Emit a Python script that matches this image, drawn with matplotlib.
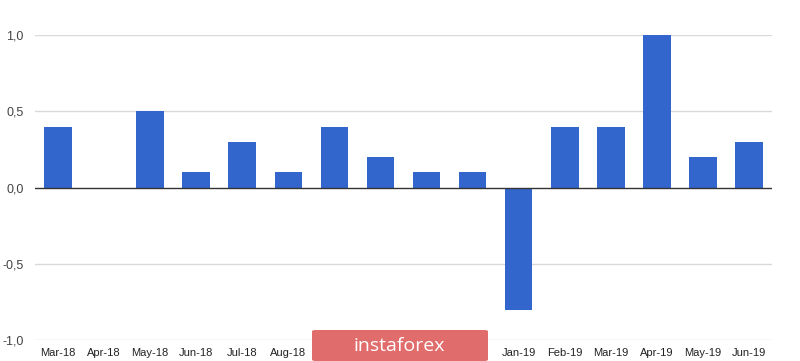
import numpy as np
import matplotlib.pyplot as plt
from matplotlib.patches import FancyBboxPatch

meses = ["Mar-18", "Apr-18", "May-18", "Jun-18", "Jul-18", "Aug-18", "Sep-18", "Oct-18",
         "Nov-18", "Dec-18", "Jan-19", "Feb-19", "Mar-19", "Apr-19", "May-19", "Jun-19"]
valores = [0.4, 0.0, 0.5, 0.1, 0.3, 0.1, 0.4, 0.2, 0.1, 0.1, -0.8, 0.4, 0.4, 1.0, 0.2, 0.3]
# etiquetas tapadas por la marca de agua en la imagen
ocultas = ["Sep-18", "Oct-18", "Nov-18", "Dec-18"]
ticks_y = [-1.0, -0.5, 0.0, 0.5, 1.0]
etiquetas_y = ["-1,0", "-0,5", "0,0", "0,5", "1,0"]

plt.rcParams['font.family'] = ['Liberation Sans', 'DejaVu Sans']

fig = plt.figure(figsize=(8, 3.61), dpi=100)
ax = fig.add_axes([35 / 800, 1 - 340 / 361, (772 - 35) / 800, (340 - 35) / 361])

x = np.arange(len(meses))
ax.bar(x, valores, width=0.6, color="#3366cc", zorder=3)

ax.set_xlim(-0.5, len(meses) - 0.5)
ax.set_ylim(-1.0, 1.0)
ax.set_yticks(ticks_y)
ax.set_yticklabels(etiquetas_y, color="#444444", fontsize=9)
ax.set_xticks(x)
ax.set_xticklabels(["" if m in ocultas else m for m in meses], color="#222222", fontsize=8)
ax.tick_params(length=0)
ax.tick_params(axis="y", pad=8)
ax.tick_params(axis="x", pad=6)
for y in ticks_y:
    if y != 0:
        ax.axhline(y, color="#d9d9d9", lw=1, zorder=1)
ax.axhline(0, color="#333333", lw=1, zorder=4)
for s in ax.spines.values():
    s.set_visible(False)

# marca de agua
caja = FancyBboxPatch((312 / 800, 0), 176 / 800, 31 / 361, boxstyle="round,pad=0,rounding_size=0.004",
                      transform=fig.transFigure, facecolor="#e06c6c", edgecolor="none", zorder=10)
fig.patches.append(caja)
fig.text(399 / 800, 15 / 361, "instaforex", color="white", fontsize=14, ha="center", va="center",
         family=["Open Sans", "DejaVu Sans"], zorder=11)

fig.savefig("out.png", dpi=100)
